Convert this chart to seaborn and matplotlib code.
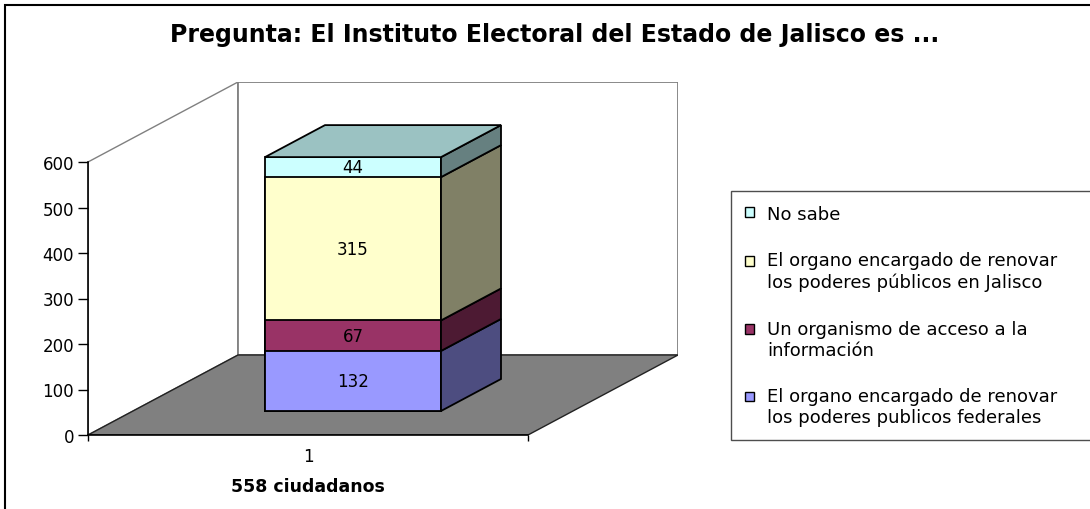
import numpy as np
import pandas as pd
import matplotlib
matplotlib.use("Agg")
import matplotlib.pyplot as plt
import seaborn as sns
from matplotlib.patches import Polygon, Rectangle, Patch
from matplotlib.transforms import Affine2D
from matplotlib.legend_handler import HandlerPatch

# datos (de abajo hacia arriba)
categorias = ["1"]
respuestas = ["El organo encargado de renovar\nlos poderes publicos federales",
              "Un organismo de acceso a la\ninformación",
              "El organo encargado de renovar\nlos poderes públicos en Jalisco",
              "No sabe"]
valores = [132, 67, 315, 44]
colores = ["#9999FF", "#993366", "#FFFFCC", "#CCFFFF"]
yticks = [0, 100, 200, 300, 400, 500, 600]
titulo = "Pregunta: El Instituto Electoral del Estado de Jalisco es ..."
xlabel = "558 ciudadanos"

sns.set_style("white")
plt.rcParams["font.family"] = ["DejaVu Sans"]
plt.rcParams["text.color"] = "black"
plt.rcParams["axes.labelcolor"] = "black"
plt.rcParams["xtick.color"] = "black"
plt.rcParams["ytick.color"] = "black"

fig = plt.figure(figsize=(10.9, 5.1), dpi=100)
ax = fig.add_axes([88/1090, 74/510, 590/1090, 353/510])

# profundidad del "3D"
DX = 150/440
DY = 80/(273/600)
f0, f1 = 0.3, 0.7
w = 0.4
ymax = yticks[-1]

def shade(c, k):
    r, g, b = matplotlib.colors.to_rgb(c)
    return (r*k, g*k, b*k)

# paredes y piso
ax.add_patch(Polygon([(-0.5, 0), (-0.5, ymax), (-0.5+DX, ymax+DY), (-0.5+DX, DY)],
                     closed=True, facecolor="white", edgecolor="#808080", lw=1, zorder=0))
ax.add_patch(Rectangle((-0.5+DX, DY), 1, ymax, facecolor="white",
                       edgecolor="#808080", lw=1.3, zorder=0))
ax.add_patch(Polygon([(-0.5, 0), (0.5, 0), (0.5+DX, DY), (-0.5+DX, DY)],
                     closed=True, facecolor="#808080", edgecolor="#222222", lw=1, zorder=1))

# cara frontal con seaborn (acumulados, el mayor primero)
acum = np.cumsum(valores)
bases = acum - np.array(valores)
for i in range(len(valores)-1, -1, -1):
    n0 = len(ax.patches)
    df = pd.DataFrame({"cat": categorias, "val": [acum[i]]})
    sns.barplot(data=df, x="cat", y="val", color=colores[i], saturation=1,
                width=w, edgecolor="black", linewidth=1.3, errorbar=None, ax=ax)
    for p in ax.patches[n0:]:
        p.set_transform(Affine2D().translate(f0*DX, f0*DY) + ax.transData)
        p.set_zorder(3)

# caras laterales y tapa
xr = w/2
for i in range(len(valores)):
    b, t = bases[i], acum[i]
    pts = [(xr+f0*DX, b+f0*DY), (xr+f1*DX, b+f1*DY),
           (xr+f1*DX, t+f1*DY), (xr+f0*DX, t+f0*DY)]
    ax.add_patch(Polygon(pts, closed=True, facecolor=shade(colores[i], 0.5),
                         edgecolor="black", lw=1.3, zorder=3))
    ax.text(f0*DX, f0*DY + (b+t)/2, str(valores[i]), ha="center", va="center",
            fontsize=12, zorder=5)
T = acum[-1]
ax.add_patch(Polygon([(-xr+f0*DX, T+f0*DY), (xr+f0*DX, T+f0*DY),
                      (xr+f1*DX, T+f1*DY), (-xr+f1*DX, T+f1*DY)],
                     closed=True, facecolor=shade(colores[-1], 0.76),
                     edgecolor="black", lw=1.3, zorder=3))

ax.set_xlim(-0.5, 0.5+DX)
ax.set_ylim(0, ymax+DY)
for s in ["top", "right"]:
    ax.spines[s].set_visible(False)
ax.spines["left"].set_bounds(0, ymax)
ax.spines["bottom"].set_bounds(-0.5, 0.5)
for s in ["left", "bottom"]:
    ax.spines[s].set_color("black")
    ax.spines[s].set_linewidth(1.2)
    ax.spines[s].set_zorder(2)
ax.set_yticks(yticks)
ax.set_yticklabels([str(v) for v in yticks], fontsize=12)
ax.set_xticks([0])
ax.set_xticklabels(categorias, fontsize=12)
ax.set_xticks([-0.5, 0.5], minor=True)
ax.tick_params(axis="y", direction="out", length=7, width=1, color="black", left=True, pad=3)
ax.tick_params(axis="x", which="major", length=0, pad=9)
ax.tick_params(axis="x", which="minor", length=4.5, width=1, color="black", bottom=True)
ax.set_xlabel(xlabel, fontsize=12.5, fontweight="bold", labelpad=8)
ax.xaxis.label.set_x(0.5/(1+DX))
ax.set_ylabel("")
ax.set_facecolor("none")

fig.suptitle(titulo, x=555/1090, y=1-35/510, va="center", fontsize=17, fontweight="bold")

# leyenda: el cuadrito va junto a la primera linea del texto
def cuadro_arriba(legend, orig_handle, xdescent, ydescent, width, height, fontsize):
    return Rectangle((-xdescent, -ydescent + 0.6*fontsize), width, height)

def cuadro(legend, orig_handle, xdescent, ydescent, width, height, fontsize):
    return Rectangle((-xdescent, -ydescent), width, height)

handles = [Patch(facecolor=colores[i], edgecolor="black", lw=1) for i in range(3, -1, -1)]
labels = [respuestas[i] for i in range(3, -1, -1)]
hmap = {h: HandlerPatch(patch_func=cuadro_arriba if "\n" in l else cuadro)
        for h, l in zip(handles, labels)}
fig.legend(handles, labels, loc="upper left", mode="expand", handler_map=hmap,
           bbox_to_anchor=(731/1090, 1-192/510, 380/1090, 0),
           fontsize=13, frameon=True, fancybox=False, edgecolor="#222222",
           handlelength=0.55, handleheight=0.45, handletextpad=0.7, labelspacing=1.6,
           borderpad=0.75, borderaxespad=0)

fig.add_artist(Rectangle((5/1090, -0.2), 2, 1.2-6/510, transform=fig.transFigure,
                         fill=False, edgecolor="black", lw=1.5))

fig.savefig("out.png", dpi=100)
